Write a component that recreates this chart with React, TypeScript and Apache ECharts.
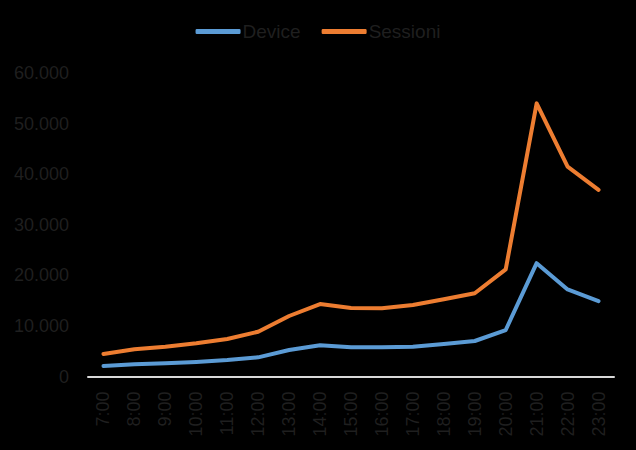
import React, { useEffect, useRef } from "react";
import * as echarts from "echarts";

const categories = ["7:00", "8:00", "9:00", "10:00", "11:00", "12:00", "13:00", "14:00", "15:00", "16:00", "17:00", "18:00", "19:00", "20:00", "21:00", "22:00", "23:00"];
const deviceValues = [2080, 2410, 2600, 2870, 3260, 3790, 5240, 6170, 5770, 5770, 5900, 6430, 7020, 9190, 22400, 17200, 14900];
const sessioniValues = [4450, 5380, 5900, 6560, 7400, 8860, 11960, 14330, 13540, 13480, 14140, 15260, 16450, 21190, 54000, 41500, 36900];
const seriesNames = ["Device", "Sessioni"];

const FONT = "'Liberation Sans', Arial, sans-serif";
const TEXT = "#1f1f1f";

export default function App() {
  const ref = useRef<HTMLDivElement>(null);
  useEffect(() => {
    if (!ref.current) return;
    const chart = echarts.init(ref.current, undefined, { renderer: "svg" });
    chart.setOption({
      animation: false,
      backgroundColor: "#000000",
      legend: {
        data: seriesNames,
        left: "center",
        top: 17,
        icon: "roundRect",
        itemWidth: 45,
        itemHeight: 5,
        itemGap: 21,
        textStyle: { color: TEXT, fontSize: 19, fontFamily: FONT, padding: [0, 0, 0, -3] },
      },
      grid: { left: 88, right: 22, top: 73, bottom: 73.5 },
      xAxis: {
        type: "category",
        data: categories,
        boundaryGap: true,
        axisLine: { show: true, lineStyle: { color: "#d9d9d9", width: 2 } },
        axisTick: { show: false },
        axisLabel: {
          rotate: 90,
          margin: 15,
          color: TEXT,
          fontSize: 18,
          fontFamily: FONT,
          interval: 0,
        },
      },
      yAxis: {
        type: "value",
        min: 0,
        max: 60000,
        interval: 10000,
        axisLine: { show: false },
        axisTick: { show: false },
        splitLine: { show: false },
        axisLabel: {
          margin: 19,
          color: TEXT,
          fontSize: 18,
          fontFamily: FONT,
          formatter: (v: number) => (v === 0 ? "0" : v.toLocaleString("en-US").replace(/,/g, ".")),
        },
      },
      series: [
        {
          name: seriesNames[0],
          type: "line",
          data: deviceValues,
          showSymbol: false,
          symbol: "none",
          lineStyle: { color: "#5b9bd5", width: 4, cap: "round", join: "round" },
          itemStyle: { color: "#5b9bd5" },
        },
        {
          name: seriesNames[1],
          type: "line",
          data: sessioniValues,
          showSymbol: false,
          symbol: "none",
          lineStyle: { color: "#ed7d31", width: 4, cap: "round", join: "round" },
          itemStyle: { color: "#ed7d31" },
        },
      ],
    });
    return () => chart.dispose();
  }, []);
  return <div ref={ref} style={{ width: 636, height: 450, position: "absolute", left: 0, top: 0 }} />;
}
